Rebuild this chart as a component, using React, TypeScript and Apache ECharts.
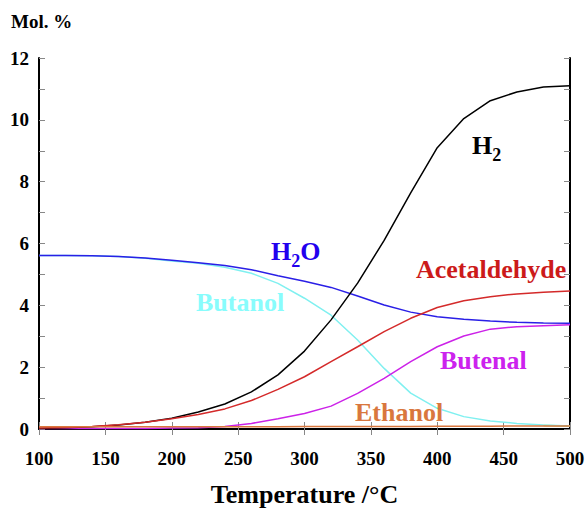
import React, { useEffect, useRef } from "react";
import * as echarts from "echarts";

const temps = [100, 120, 140, 160, 180, 200, 220, 240, 260, 280, 300, 320, 340, 360, 380, 400, 420, 440, 460, 480, 500];
const h2 = [0.02, 0.04, 0.07, 0.13, 0.22, 0.35, 0.55, 0.81, 1.2, 1.75, 2.52, 3.53, 4.72, 6.1, 7.64, 9.1, 10.04, 10.62, 10.9, 11.06, 11.1];
const acetaldehyde = [0.03, 0.05, 0.08, 0.14, 0.22, 0.33, 0.47, 0.65, 0.92, 1.28, 1.69, 2.18, 2.66, 3.15, 3.58, 3.93, 4.15, 4.28, 4.37, 4.42, 4.46];
const h2o = [5.61, 5.61, 5.6, 5.58, 5.53, 5.46, 5.38, 5.29, 5.15, 4.96, 4.78, 4.58, 4.3, 4.01, 3.78, 3.63, 3.55, 3.49, 3.45, 3.43, 3.42];
const butanol = [5.61, 5.61, 5.6, 5.58, 5.52, 5.43, 5.36, 5.23, 5.04, 4.71, 4.23, 3.68, 2.88, 1.96, 1.16, 0.67, 0.4, 0.26, 0.18, 0.13, 0.1];
const butenal = [0.02, 0.02, 0.02, 0.02, 0.02, 0.03, 0.04, 0.08, 0.18, 0.33, 0.5, 0.74, 1.15, 1.64, 2.18, 2.66, 3.01, 3.23, 3.31, 3.34, 3.37];
const ethanol = [0.07, 0.07, 0.07, 0.07, 0.07, 0.07, 0.07, 0.07, 0.07, 0.07, 0.08, 0.08, 0.08, 0.08, 0.08, 0.09, 0.09, 0.09, 0.1, 0.1, 0.1];
const other = [null, null, null, null, null, null, null, null, null, null, null, null, null, null, null, null, null, null, null, 0.11, 0.1];

const xTicks = { min: 100, max: 500, interval: 50 };
const yTicks = { min: 0, max: 12, interval: 1 };

const FONT = "Liberation Serif";

function pairs(vals: (number | null)[]) {
  return temps.map((t, i) => [t, vals[i]]);
}

export default function App() {
  const ref = useRef<HTMLDivElement>(null);
  useEffect(() => {
    if (!ref.current) return;
    const chart = echarts.init(ref.current, undefined, { renderer: "svg" });
    const line = (name: string, vals: (number | null)[], color: string, z: number) => ({
      name,
      type: "line",
      data: pairs(vals),
      showSymbol: false,
      symbol: "none",
      connectNulls: false,
      lineStyle: { color, width: 1.5 },
      z,
    });
    const lbl = (text: string, x: number, y: number, color: string, rich?: any) => ({
      type: "text",
      x,
      y,
      style: {
        text,
        fill: color,
        fontFamily: FONT,
        fontWeight: "bold",
        fontSize: 26,
        align: "left",
        verticalAlign: "middle",
        rich,
      },
      z: 100,
    });
    const subRich = (color: string) => ({
      m: { fontFamily: FONT, fontWeight: "bold", fontSize: 26, fill: color, lineHeight: 26, verticalAlign: "middle" },
      s: { fontFamily: FONT, fontWeight: "bold", fontSize: 18, fill: color, lineHeight: 38, verticalAlign: "bottom" },
    });
    chart.setOption({
      animation: false,
      backgroundColor: "#ffffff",
      grid: { left: 39, right: 18, top: 58, bottom: 79, containLabel: false, outerBoundsMode: "none" },
      xAxis: [
        {
          type: "value",
          position: "bottom",
          min: xTicks.min,
          max: xTicks.max,
          interval: xTicks.interval,
          name: "Temperature /°C",
          nameLocation: "middle",
          nameGap: 52,
          nameTextStyle: { fontFamily: FONT, fontWeight: "bold", fontSize: 26, color: "#000" },
          axisLine: { show: true, lineStyle: { color: "#000", width: 2 } },
          axisTick: { show: true, inside: true, length: 7, lineStyle: { color: "#888", width: 1 } },
          axisLabel: { fontFamily: FONT, fontWeight: "bold", fontSize: 19, color: "#000", margin: 20 },
          splitLine: { show: false },
        },
        {
          type: "value",
          position: "top",
          min: xTicks.min,
          max: xTicks.max,
          interval: xTicks.interval,
          axisLine: { show: true, lineStyle: { color: "#000", width: 1.5 } },
          axisTick: { show: true, inside: true, length: 6, lineStyle: { color: "#888", width: 1 } },
          axisLabel: { show: false },
          splitLine: { show: false },
        },
      ],
      yAxis: [
        {
          type: "value",
          position: "left",
          min: yTicks.min,
          max: yTicks.max,
          interval: yTicks.interval,
          axisLine: { show: true, lineStyle: { color: "#000", width: 2 } },
          axisTick: { show: true, inside: true, length: 6, lineStyle: { color: "#888", width: 1 } },
          axisLabel: {
            fontFamily: FONT,
            fontWeight: "bold",
            fontSize: 19,
            color: "#000",
            margin: 10,
            formatter: (v: number) => (v % 2 === 0 ? String(v) : ""),
          },
          splitLine: { show: false },
        },
        {
          type: "value",
          position: "right",
          min: yTicks.min,
          max: yTicks.max,
          interval: yTicks.interval,
          axisLine: { show: true, lineStyle: { color: "#000", width: 2 } },
          axisTick: { show: true, inside: true, length: 6, lineStyle: { color: "#888", width: 1 } },
          axisLabel: { show: false },
          splitLine: { show: false },
        },
      ],
      series: [
        line("Other", other, "#99cc33", 1),
        line("Butanol", butanol, "#80f0f0", 2),
        line("H2O", h2o, "#2a1fe6", 3),
        line("Butenal", butenal, "#cc22e8", 4),
        line("H2", h2, "#000000", 5),
        line("Acetaldehyde", acetaldehyde, "#d42a2a", 6),
        line("Ethanol", ethanol, "#d9773e", 7),
      ],
      graphic: [
        {
          type: "text",
          x: 11,
          y: 21,
          style: {
            text: "Mol. %",
            fill: "#000",
            fontFamily: FONT,
            fontWeight: "bold",
            fontSize: 19,
            align: "left",
            verticalAlign: "middle",
          },
        },
        lbl("{m|H}{s|2}", 472, 145, "#000", subRich("#000")),
        lbl("{m|H}{s|2}{m|O}", 271, 251, "#2200ee", subRich("#2200ee")),
        lbl("Acetaldehyde", 416, 269, "#cc1a1a"),
        lbl("Butanol", 196, 302, "#88fcfc"),
        lbl("Butenal", 440, 360, "#cc22ee"),
        lbl("Ethanol", 355, 412, "#d9773e"),
      ],
    });
    return () => chart.dispose();
  }, []);
  return <div ref={ref} style={{ position: "absolute", left: 0, top: 0, width: 588, height: 508 }} />;
}
